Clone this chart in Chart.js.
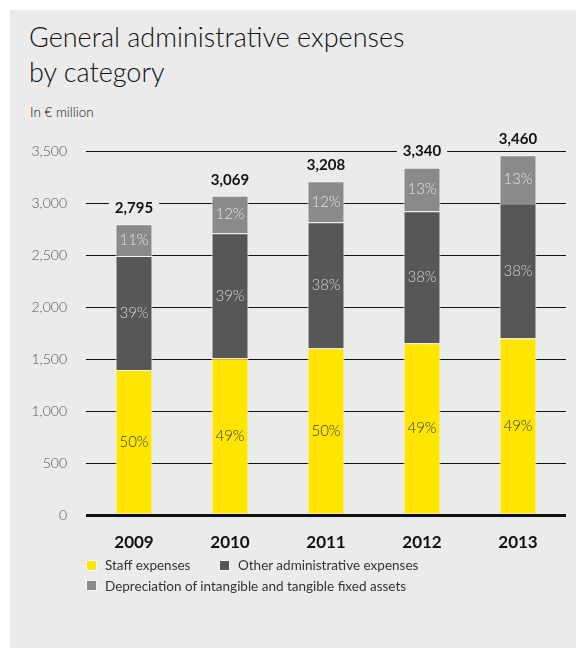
<!DOCTYPE html>
<html>
<head>
<meta charset="utf-8">
<script src="https://cdn.jsdelivr.net/npm/chart.js@4.4.1/dist/chart.umd.min.js"></script>
<style>
  html, body { margin: 0; padding: 0; background: #ffffff; }
  body { width: 576px; height: 648px; position: relative; overflow: hidden; font-family: Lato, "DejaVu Sans", sans-serif; }
  #panel { position: absolute; left: 10px; top: 10px; width: 566px; height: 638px; background: #ebebeb; }
  #title { position: absolute; left: 29px; top: 19px; font-size: 27px; line-height: 35px; font-weight: 300; color: #111; white-space: nowrap; }
  #unit { position: absolute; left: 30px; top: 104px; font-size: 13.5px; line-height: 16px; font-weight: 300; color: #111; }
  #wrap { position: absolute; left: 0; top: 0; width: 576px; height: 648px; }
  .lg { position: absolute; font-size: 13.5px; line-height: 16px; color: #333; white-space: nowrap; }
  .sw { position: absolute; width: 9px; height: 9px; border: 1px solid #f7f7f7; }
</style>
</head>
<body>
<div id="panel"></div>
<div id="title">General administrative expenses<br>by category</div>
<div id="unit">In € million</div>
<div id="wrap"><canvas id="c" width="576" height="648"></canvas></div>
<div class="sw" style="left:86px;top:560px;background:#ffe600"></div>
<div class="lg" style="left:105px;top:557px">Staff expenses</div>
<div class="sw" style="left:219px;top:560px;background:#575757"></div>
<div class="lg" style="left:238px;top:557px">Other administrative expenses</div>
<div class="sw" style="left:86px;top:580px;background:#8a8a8a"></div>
<div class="lg" style="left:105px;top:578px">Depreciation of intangible and tangible fixed assets</div>
<script>
const categories = ["2009", "2010", "2011", "2012", "2013"];
const staffExpenses = [1394, 1507, 1603, 1651, 1699];
const otherAdminExpenses = [1096, 1202, 1211, 1269, 1298];
const depreciation = [305, 360, 394, 420, 463];
const totals = [2795, 3069, 3208, 3340, 3460];
const staffPct = ["50%", "49%", "50%", "49%", "49%"];
const otherPct = ["39%", "39%", "38%", "38%", "38%"];
const depPct = ["11%", "12%", "12%", "13%", "13%"];
const yTicks = [0, 500, 1000, 1500, 2000, 2500, 3000, 3500];

const FONT = "Lato, 'DejaVu Sans', sans-serif";
const pctLabels = [staffPct, otherPct, depPct];
const pctColors = ["#3a3a2a", "#d0d0d0", "#e2e2e2"];

const labelPlugin = {
  id: "labels",
  afterDatasetsDraw(chart) {
    const ctx = chart.ctx;
    ctx.save();
    ctx.textAlign = "center";
    ctx.textBaseline = "middle";
    chart.data.datasets.forEach((ds, i) => {
      const meta = chart.getDatasetMeta(i);
      meta.data.forEach((el, j) => {
        const y = (el.y + el.base) / 2;
        ctx.font = "300 15px " + FONT;
        ctx.fillStyle = pctColors[i];
        ctx.fillText(pctLabels[i][j], el.x, y);
      });
    });
    const yScale = chart.scales.y;
    const xScale = chart.scales.x;
    ctx.font = "bold 15px " + FONT;
    totals.forEach((t, j) => {
      const x = xScale.getPixelForValue(j);
      const y = yScale.getPixelForValue(t) - 16;
      const txt = t.toLocaleString("en-US");
      const w = ctx.measureText(txt).width;
      ctx.fillStyle = "#ebebeb";
      ctx.fillRect(x - w / 2 - 6, y - 9, w + 12, 18);
      ctx.fillStyle = "#111";
      ctx.fillText(txt, x, y);
    });
    ctx.restore();
  }
};

new Chart(document.getElementById("c"), {
  type: "bar",
  data: {
    labels: categories,
    datasets: [
      { label: "Staff expenses", data: staffExpenses, backgroundColor: "#ffe600" },
      { label: "Other administrative expenses", data: otherAdminExpenses, backgroundColor: "#575757" },
      { label: "Depreciation of intangible and tangible fixed assets", data: depreciation, backgroundColor: "#8a8a8a" }
    ].map(d => Object.assign(d, { borderColor: "#f4f4f4", borderWidth: 1, categoryPercentage: 1, barPercentage: 0.385 }))
  },
  options: {
    responsive: false,
    animation: false,
    devicePixelRatio: 1,
    layout: { padding: { top: 151, right: 10, left: 0, bottom: 0 } },
    plugins: { legend: { display: false }, tooltip: { enabled: false } },
    scales: {
      x: {
        stacked: true,
        grid: { display: false, drawTicks: false },
        border: { display: false },
        ticks: { padding: 17, color: "#111", font: { family: FONT, size: 17, weight: "bold" } },
        afterFit: s => { s.height = 133; }
      },
      y: {
        stacked: true,
        min: 0,
        max: 3500,
        afterBuildTicks: s => { s.ticks = yTicks.map(v => ({ value: v })); },
        grid: {
          color: "#111",
          lineWidth: c => (c.tick && c.tick.value === 0 ? 3 : 1),
          drawTicks: false
        },
        border: { display: false },
        ticks: {
          padding: 19,
          color: "#555",
          font: { family: FONT, size: 14, weight: "300" },
          callback: v => v.toLocaleString("en-US")
        },
        afterFit: s => { s.width = 86; }
      }
    }
  },
  plugins: [labelPlugin]
});
</script>
</body>
</html>
